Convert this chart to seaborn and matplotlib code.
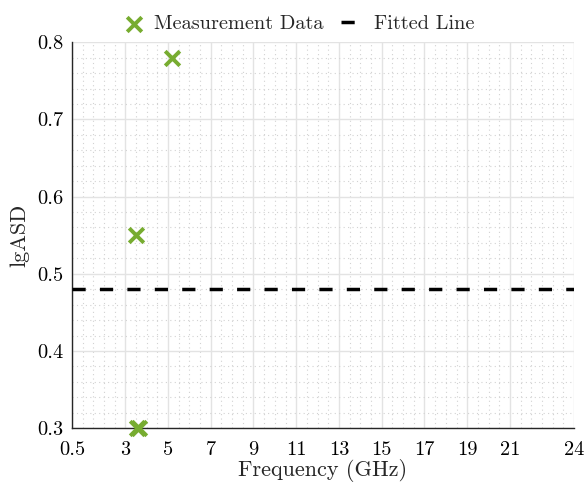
import numpy as np
import pandas as pd
import matplotlib
matplotlib.use("Agg")
import matplotlib.pyplot as plt
from matplotlib.ticker import MultipleLocator
import seaborn as sns

meas_freq = [5.2, 3.5, 3.55, 3.65]
meas_lgasd = [0.78, 0.55, 0.30, 0.30]

### fitted (constant) line
fit_freq = [0.5, 24]
fit_lgasd = [0.48, 0.48]

x_ticks = [0.5, 3, 5, 7, 9, 11, 13, 15, 17, 19, 21, 24]
y_ticks = [0.3, 0.4, 0.5, 0.6, 0.7, 0.8]

green = '#77AC30'

sns.set_style("white")
plt.rcParams['font.family'] = ['cmr10', 'DejaVu Serif']
plt.rcParams['mathtext.fontset'] = 'cm'
plt.rcParams['axes.formatter.use_mathtext'] = True

fig = plt.figure(figsize=(5.84, 4.91), dpi=100)
ax = fig.add_axes([0.123, 0.128, 0.860, 0.786])

meas_df = pd.DataFrame({'f': meas_freq, 'v': meas_lgasd})
fit_df = pd.DataFrame({'f': fit_freq, 'v': fit_lgasd})

sns.scatterplot(data=meas_df, x='f', y='v', marker='x', s=110, linewidth=2.8,
                color=green, ax=ax, label='Measurement Data', zorder=5, clip_on=False)
sns.lineplot(data=fit_df, x='f', y='v', color='black', linewidth=2.5, ax=ax,
             label='Fitted Line', zorder=4)
ax.lines[-1].set_dashes((3.8, 4.1))

### axes limits and ticks
ax.set_xlim(0.5, 24)
ax.set_ylim(0.3, 0.8)
ax.set_xticks(x_ticks)
ax.set_xticklabels([str(t) for t in x_ticks])
ax.set_yticks(y_ticks)
ax.set_yticklabels(['%.1f' % t for t in y_ticks])
ax.xaxis.set_minor_locator(MultipleLocator(0.5))
ax.yaxis.set_minor_locator(MultipleLocator(0.02))

### matlab-like grid
ax.grid(True, which='major', color='#e3e3e3', linewidth=1.0)
ax.grid(True, which='minor', color='#d2d2d2', linewidth=0.8, linestyle=(0, (1, 3)))
ax.set_axisbelow(True)

for s in ['top', 'right']:
    ax.spines[s].set_visible(False)
for s in ['left', 'bottom']:
    ax.spines[s].set_color('#262626')
    ax.spines[s].set_linewidth(1.0)

ax.tick_params(which='major', direction='in', length=4, width=1, color='#262626',
               labelsize=14.7, labelcolor='black')
ax.tick_params(axis='x', which='major', pad=9)
ax.tick_params(axis='y', which='major', pad=6)
ax.tick_params(which='minor', length=0)

ax.set_xlabel('Frequency (GHz)', fontsize=16, labelpad=0)
ax.set_ylabel('lgASD', fontsize=16, labelpad=6)

ax.legend(loc='lower center', bbox_to_anchor=(0.45, 0.995), ncol=2, frameon=False,
          fontsize=14.6, handlelength=1.25, handletextpad=0.35, columnspacing=0.9,
          borderaxespad=0.15)

plt.savefig('out.png', dpi=100)
